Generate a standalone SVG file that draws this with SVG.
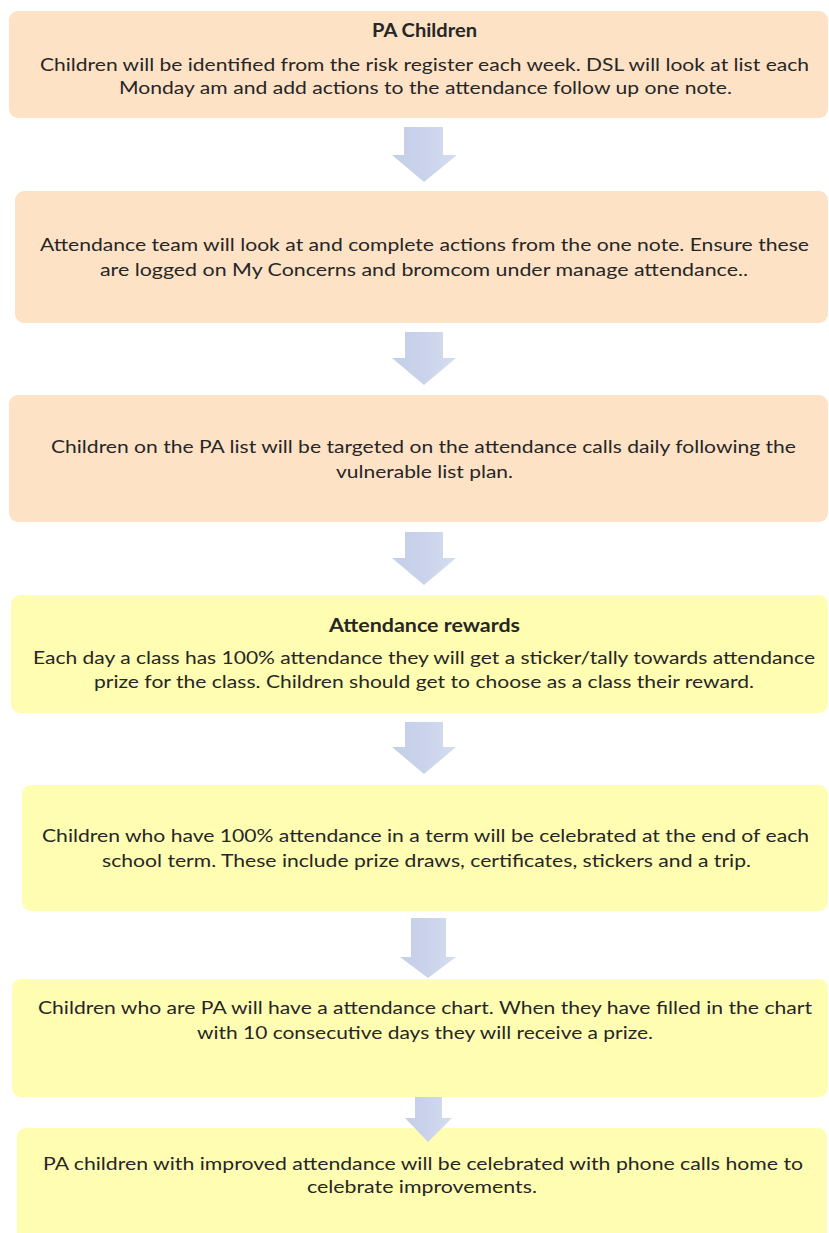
<svg xmlns="http://www.w3.org/2000/svg" width="829" height="1233" viewBox="0 0 829 1233">
<style>
.peach{fill:#FDE2C6}
.yellow{fill:#FFFDB2}
.t{font-family:Lato,"Liberation Sans",sans-serif;font-size:18px;fill:#262626;text-anchor:middle}
.b{font-weight:bold}
.arr{fill:url(#ag)}
</style>
<defs>
<linearGradient id="ag" x1="0" y1="0" x2="1" y2="0">
<stop offset="0" stop-color="#C4CEE7"/>
<stop offset="0.5" stop-color="#CAD3EB"/>
<stop offset="1" stop-color="#D6DDF0"/>
</linearGradient>
</defs>
<rect width="829" height="1233" fill="#FFFFFF"/>
<g id="n1">
<rect class="peach" x="9" y="11" width="819" height="107" rx="9"/>
<text class="t b" x="424.5" y="37" textLength="105" lengthAdjust="spacingAndGlyphs">PA Children</text>
<text class="t" x="424.5" y="71" textLength="769" lengthAdjust="spacingAndGlyphs">Children will be identified from the risk register each week. DSL will look at list each</text>
<text class="t" x="425.5" y="94" textLength="613" lengthAdjust="spacingAndGlyphs">Monday am and add actions to the attendance follow up one note.</text>
</g>
<g id="n2">
<rect class="peach" x="15" y="191" width="813" height="132" rx="9"/>
<text class="t" x="424.5" y="251" textLength="769" lengthAdjust="spacingAndGlyphs">Attendance team will look at and complete actions from the one note. Ensure these</text>
<text class="t" x="424" y="276" textLength="648" lengthAdjust="spacingAndGlyphs">are logged on My Concerns and bromcom under manage attendance..</text>
</g>
<g id="n3">
<rect class="peach" x="9" y="395" width="819" height="127" rx="9"/>
<text class="t" x="423.5" y="453" textLength="745" lengthAdjust="spacingAndGlyphs">Children on the PA list will be targeted on the attendance calls daily following the</text>
<text class="t" x="424.5" y="478" textLength="177" lengthAdjust="spacingAndGlyphs">vulnerable list plan.</text>
</g>
<g id="n4">
<rect class="yellow" x="11" y="595" width="817" height="118" rx="9"/>
<text class="t b" x="424.5" y="632" textLength="191" lengthAdjust="spacingAndGlyphs">Attendance rewards</text>
<text class="t" x="424" y="664" textLength="782" lengthAdjust="spacingAndGlyphs">Each day a class has 100% attendance they will get a sticker/tally towards attendance</text>
<text class="t" x="424" y="688" textLength="660" lengthAdjust="spacingAndGlyphs">prize for the class. Children should get to choose as a class their reward.</text>
</g>
<g id="n5">
<rect class="yellow" x="22" y="785" width="806" height="126" rx="9"/>
<text class="t" x="425.5" y="842" textLength="767" lengthAdjust="spacingAndGlyphs">Children who have 100% attendance in a term will be celebrated at the end of each</text>
<text class="t" x="426.5" y="867" textLength="649" lengthAdjust="spacingAndGlyphs">school term. These include prize draws, certificates, stickers and a trip.</text>
</g>
<g id="n6">
<rect class="yellow" x="12" y="979" width="816" height="118" rx="9"/>
<text class="t" x="425" y="1014" textLength="774" lengthAdjust="spacingAndGlyphs">Children who are PA will have a attendance chart. When they have filled in the chart</text>
<text class="t" x="425" y="1039" textLength="456" lengthAdjust="spacingAndGlyphs">with 10 consecutive days they will receive a prize.</text>
</g>
<g id="n7">
<rect class="yellow" x="17" y="1128" width="810" height="120" rx="9"/>
<text class="t" x="423" y="1170" textLength="760" lengthAdjust="spacingAndGlyphs">PA children with improved attendance will be celebrated with phone calls home to</text>
<text class="t" x="422" y="1193" textLength="230" lengthAdjust="spacingAndGlyphs">celebrate improvements.</text>
</g>
<g id="connectors">
<polygon class="arr" points="404,127 443,127 443,155 457,155 424,182 392,155 404,155"/>
<polygon class="arr" points="405,332 443,332 443,358 456,358 424,385 392,358 405,358"/>
<polygon class="arr" points="405,532 443,532 443,558 456,558 424,585 392,558 405,558"/>
<polygon class="arr" points="405,722 443,722 443,747 456,747 424,774 392,747 405,747"/>
<polygon class="arr" points="411,918 446,918 446,957 456,957 428,978 400,957 411,957"/>
<polygon class="arr" points="415,1097 442,1097 442,1118 452,1118 428,1142 405,1118 415,1118"/>
</g>
</svg>
